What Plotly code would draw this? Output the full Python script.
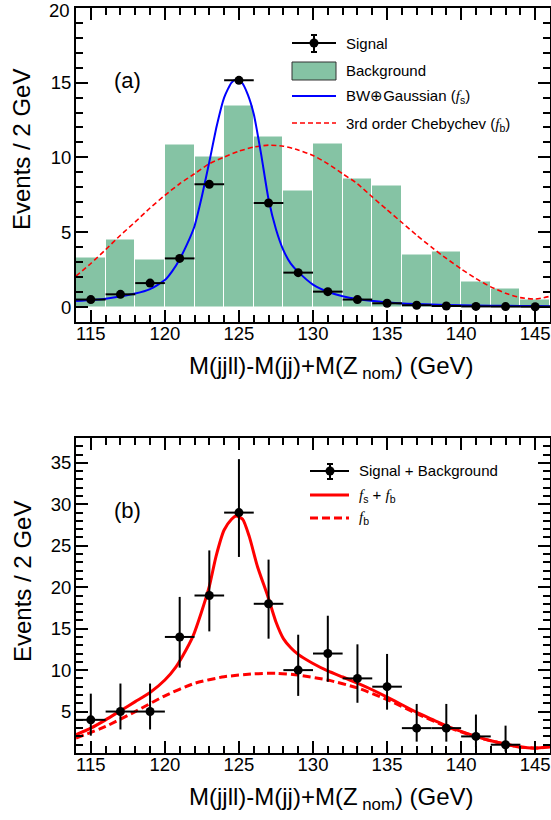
import plotly.graph_objects as go

W, H = 551, 820

# ---------------- data ----------------
bin_centers = [115, 117, 119, 121, 123, 125, 127, 129, 131, 133, 135, 137, 139, 141, 143, 145]
background = [3.3, 4.5, 3.2, 10.85, 10.05, 13.5, 11.4, 7.8, 10.9, 8.6, 8.1, 3.5, 3.7, 1.7, 1.25, 0.5]
signal = [0.5, 0.85, 1.6, 3.25, 8.2, 15.15, 6.95, 2.3, 1.03, 0.5, 0.25, 0.12, 0.07, 0.04, 0.03, 0.02]
bin_half_width = [1] * 16

fs_x = [114, 116, 118, 119, 120, 120.5, 121, 121.5, 122, 122.5, 123, 123.5, 124, 124.5, 124.8,
        125.2, 125.6, 126, 126.5, 127, 127.5, 128, 128.5, 129, 130, 131, 132, 133, 135, 137,
        139, 141, 143, 145, 146]
fs_y = [0.40, 0.55, 0.9, 1.2, 1.8, 2.4, 3.2, 4.2, 5.4, 7.4, 9.7, 12.1, 14.0, 15.0, 15.2,
        15.0, 14.2, 12.9, 10.2, 7.2, 5.2, 3.8, 2.9, 2.35, 1.5, 1.02, 0.72, 0.53, 0.31, 0.2,
        0.13, 0.1, 0.08, 0.07, 0.06]

fb_x = [114, 115, 116, 117, 118, 119, 120, 121, 122, 123, 124, 125, 126, 127, 128, 129, 130,
        131, 132, 133, 134, 135, 136, 137, 138, 139, 140, 141, 142, 143, 144, 145, 146]
fb_y = [2.07, 2.91, 3.84, 4.8, 5.69, 6.62, 7.47, 8.24, 8.91, 9.58, 10.02, 10.42, 10.69, 10.82,
        10.75, 10.5, 10.13, 9.58, 8.91, 8.24, 7.36, 6.5, 5.65, 4.8, 4.0, 3.25, 2.55, 1.9, 1.35,
        0.92, 0.63, 0.53, 0.72]

sb_x = [115, 117, 119, 121, 123, 125, 127, 129, 131, 133, 135, 137, 139, 141, 143]
sb_y = [4, 5, 5, 14, 19, 29, 18, 10, 12, 9, 8, 3, 3, 2, 1]
sb_err_up = [3.16, 3.38, 3.38, 4.83, 5.44, 6.45, 5.33, 4.27, 4.56, 4.11, 3.95, 2.92, 2.92, 2.64, 2.30]
sb_err_dn = [1.91, 2.16, 2.16, 3.70, 4.33, 5.35, 4.21, 3.11, 3.41, 2.94, 2.77, 1.63, 1.63, 1.29, 0.83]
sb_half_width = [1] * 15

tot_x = [114, 115, 116, 117, 118, 119, 120, 120.75, 121.2, 121.9, 122.45, 123, 123.45, 124,
         124.5, 124.8, 125.25, 125.7, 126.25, 126.95, 127.5, 128, 128.5, 129, 130, 131, 132,
         133, 134, 135, 136, 137, 138, 139, 140, 141, 142, 143, 144, 145, 146]
tot_y = [2.2, 3.0, 4.0, 5.1, 6.2, 7.3, 8.8, 10.4, 11.7, 14.1, 16.9, 20.1, 23.7, 26.9,
         28.2, 28.6, 28.2, 26.1, 22.5, 18.9, 15.8, 13.8, 12.7, 11.9, 10.8, 9.9, 9.17,
         8.44, 7.63, 6.75, 5.82, 4.9, 4.09, 3.28, 2.6, 2.0, 1.47, 1.07, 0.71, 0.59, 0.79]

fb2_x = [114, 116, 118, 120, 122, 124, 126, 127.5, 129, 131, 133, 135, 137, 139, 141, 143, 144, 145, 146]
fb2_y = [1.8, 3.2, 5.0, 6.9, 8.4, 9.2, 9.55, 9.62, 9.4, 8.8, 7.85, 6.45, 4.75, 3.2, 1.95, 1.05, 0.72, 0.6, 0.72]

x_ticks = [115, 120, 125, 130, 135, 140, 145]
ya_ticks = [0, 5, 10, 15, 20]
yb_ticks = [5, 10, 15, 20, 25, 30, 35]

FONT = "Liberation Sans, Arial, Helvetica, sans-serif"
GREEN = "#85C3A4"

def px(x):
    return x / W

def py(y):
    return 1 - y / H

fig = go.Figure()

# ---------------- panel (a) ----------------
fig.add_trace(go.Bar(x=bin_centers, y=background, width=2, marker_color=GREEN,
                     marker_line_color="white", marker_line_width=1,
                     xaxis="x", yaxis="y", showlegend=False))
fig.add_trace(go.Scatter(x=fb_x, y=fb_y, mode="lines", line=dict(color="#FF0000", width=1.6, dash="5px,3px",
                         shape="spline", smoothing=0.6), xaxis="x", yaxis="y", showlegend=False))
fig.add_trace(go.Scatter(x=fs_x, y=fs_y, mode="lines", line=dict(color="#0000FF", width=2,
                         shape="spline", smoothing=0.6), xaxis="x", yaxis="y", showlegend=False))
fig.add_trace(go.Scatter(x=bin_centers, y=signal, mode="markers",
                         marker=dict(color="black", size=9),
                         error_x=dict(type="data", array=bin_half_width, width=0, thickness=2, color="black"),
                         xaxis="x", yaxis="y", showlegend=False))

# ---------------- panel (b) ----------------
fig.add_trace(go.Scatter(x=fb2_x, y=fb2_y, mode="lines", line=dict(color="#FF0000", width=3, dash="8px,4px",
                         shape="spline", smoothing=0.6), xaxis="x2", yaxis="y2", showlegend=False))
fig.add_trace(go.Scatter(x=tot_x, y=tot_y, mode="lines", line=dict(color="#FF0000", width=3,
                         shape="spline", smoothing=0.6), xaxis="x2", yaxis="y2", showlegend=False))
fig.add_trace(go.Scatter(x=sb_x, y=sb_y, mode="markers",
                         marker=dict(color="black", size=9),
                         error_x=dict(type="data", array=sb_half_width, width=0, thickness=2, color="black"),
                         error_y=dict(type="data", symmetric=False, array=sb_err_up, arrayminus=sb_err_dn,
                                      width=0, thickness=2, color="black"),
                         xaxis="x2", yaxis="y2", showlegend=False))

xdom = [76 / W, 550 / W]
common = dict(showline=True, linewidth=2, linecolor="black", mirror="allticks",
              ticks="inside", ticklen=12, tickwidth=1.5, tickcolor="black",
              showgrid=False, zeroline=False,
              tickfont=dict(family=FONT, size=18.5, color="black"))
minor = dict(ticks="inside", ticklen=7, tickwidth=1.5, tickcolor="black")

fig.update_layout(
    width=W, height=H, margin=dict(l=0, r=0, t=0, b=0),
    paper_bgcolor="white", plot_bgcolor="white",
    font=dict(family=FONT, color="black"),
    bargap=0,
    xaxis=dict(domain=xdom, range=[114, 146], tickvals=x_ticks, anchor="y",
               minor=dict(tick0=114, dtick=1, **minor), ticklabelstandoff=-6,
               ticklabeloverflow="allow", **common),
    # the top "20" label would poke out of the page top, so plotly hides it; it is re-added below
    yaxis=dict(domain=[1 - 322 / H, 1 - 7.5 / H], range=[-1, 20.02], tickvals=ya_ticks, anchor="x",
               minor=dict(tick0=0, dtick=1, **minor), ticklabelstandoff=-1, **common),
    xaxis2=dict(domain=xdom, range=[114, 146], tickvals=x_ticks, anchor="y2",
                minor=dict(tick0=114, dtick=1, **minor), ticklabelstandoff=-6,
                ticklabeloverflow="allow", **common),
    yaxis2=dict(domain=[1 - 753 / H, 1 - 438 / H], range=[0, 38], tickvals=yb_ticks, anchor="x2",
                minor=dict(tick0=0, dtick=1, **minor), ticklabelstandoff=-1, **common),
)

ann = []
def text(x, y, s, size, xanchor="left", angle=0, yanchor="middle"):
    ann.append(dict(x=px(x), y=py(y), xref="paper", yref="paper", text=s, showarrow=False,
                    xanchor=xanchor, yanchor=yanchor, textangle=angle,
                    font=dict(family=FONT, size=size, color="black")))

# top tick label of panel (a), kept inside the page
ann.append(dict(x=0, y=20, xref="x domain", yref="y", text=str(ya_ticks[-1]), showarrow=False,
                xanchor="right", yanchor="middle", xshift=-4, yshift=-3,
                font=dict(family=FONT, size=18.5, color="black")))

# axis titles
xtitle = "M(jjll)-M(jj)+M(Z<sub> nom</sub>) (GeV)"
text(22, 150, "Events / 2 GeV", 24, "center", -90)
text(22, 582, "Events / 2 GeV", 24, "center", -90)
text(331, 368, xtitle, 24, "center")
text(331, 798, xtitle, 24, "center")
text(127, 81, "(a)", 22, "center")
text(127, 510, "(b)", 22, "center")

FI = "<span style='font-family:Liberation Serif'><i>f</i></span>"
# legend (a)
text(344, 43, "Signal", 15)
text(344, 71, "Background", 15)
text(344, 96, "BW\u2295Gaussian (" + FI + "<sub>s</sub>)", 15)
text(344, 124, "3rd order Chebychev (" + FI + "<sub>b</sub>)", 15)
# legend (b)
text(357, 471, "Signal + Background", 15)
text(357, 495, FI + "<sub>s</sub> + " + FI + "<sub>b</sub>", 15)
text(357, 518, FI + "<sub>b</sub>", 15)
fig.update_layout(annotations=ann)

shapes = []
def line(x0, y0, x1, y1, color="black", width=2, dash=None):
    d = dict(type="line", xref="paper", yref="paper", x0=px(x0), y0=py(y0), x1=px(x1), y1=py(y1),
             line=dict(color=color, width=width))
    if dash:
        d["line"]["dash"] = dash
    shapes.append(d)

def marker_entry(xc, yc, x0, x1, ytop, ybot):
    line(x0, yc, x1, yc)
    line(xc, ytop, xc, ybot)
    line(xc - 3, ytop, xc + 3, ytop)
    line(xc - 3, ybot, xc + 3, ybot)
    shapes.append(dict(type="circle", xref="paper", yref="paper", x0=px(xc - 4.5), x1=px(xc + 4.5),
                       y0=py(yc - 4.5), y1=py(yc + 4.5), fillcolor="black", line=dict(color="black", width=0)))

marker_entry(314, 43, 292, 336, 35, 52)
shapes.append(dict(type="rect", xref="paper", yref="paper", x0=px(292), x1=px(336), y0=py(80), y1=py(62),
                   fillcolor=GREEN, line=dict(color="#333333", width=1)))
line(292, 96, 336, 96, "#0000FF", 2)
line(292, 123, 336, 123, "#FF0000", 1.6, "5px,3px")

marker_entry(330, 471, 310, 349, 464, 479)
line(310, 495, 349, 495, "#FF0000", 3)
line(310, 518, 349, 518, "#FF0000", 3, "8px,4px")
fig.update_layout(shapes=shapes)

post = ("var h=document.documentElement,b=document.body;"
        "h.style.margin='0';h.style.padding='0';h.style.overflow='hidden';"
        "b.style.margin='0';b.style.padding='0';b.style.overflow='hidden';"
        "var d=document.getElementById('{plot_id}');"
        "d.style.position='absolute';d.style.top='0px';d.style.left='0px';")
fig.write_html("out.html", config={"displayModeBar": False}, post_script=post)
